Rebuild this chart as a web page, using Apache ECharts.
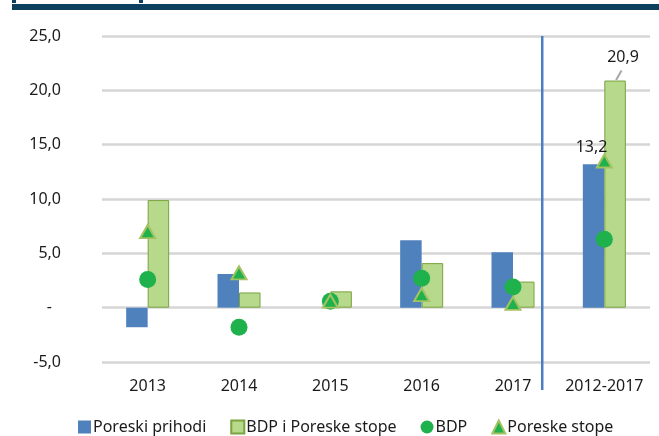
<!DOCTYPE html>
<html>
<head>
<meta charset="utf-8">
<script src="https://cdn.jsdelivr.net/npm/echarts@6/dist/echarts.min.js"></script>
<style>
  html, body { margin: 0; padding: 0; background: #ffffff; }
  #chart { width: 659px; height: 436px; }
</style>
</head>
<body>
<div id="chart"></div>
<script>
// Categories and series values
const categories = ['2013', '2014', '2015', '2016', '2017', '2012-2017'];
const poreskiPrihodi = [-1.8, 3.1, 0.0, 6.2, 5.1, 13.2];
const bdpIPoreskeStope = [9.9, 1.4, 1.5, 4.1, 2.4, 20.9];
const bdp = [2.6, -1.8, 0.6, 2.7, 1.9, 6.3];
const poreskeStope = [7.0, 3.2, 0.6, 1.2, 0.4, 13.5];
const yTicks = [-5, 0, 5, 10, 15, 20, 25];

const FONT = 'Noto Sans';
const FS = 16;
const TEXT = '#1a1a1a';
const BLUE = '#4f81bd';
const LIGHT_GREEN = '#b7d98b';
const GREEN_EDGE = '#7aa23f';
const DOT_GREEN = '#1fb14b';
const TRI_EDGE = '#a3c262';
const BAR_W = 21.5;

function fmt(v) {
  return v.toFixed(1).replace('.', ',');
}

// Only the last period carries value labels
const lastIdx = categories.length - 1;
const prihodiData = poreskiPrihodi.map((v, i) => i === lastIdx ? {
  value: v,
  label: { show: true, position: 'top', distance: 9, offset: [-2, 0],
    formatter: p => fmt(p.value), color: TEXT, fontFamily: FONT, fontSize: FS }
} : v);
const stopeBarData = bdpIPoreskeStope.map((v, i) => i === lastIdx ? {
  value: v,
  label: { show: true, position: 'top', distance: 15, offset: [8, 0],
    formatter: p => fmt(p.value), color: TEXT, fontFamily: FONT, fontSize: FS }
} : v);

const chart = echarts.init(document.getElementById('chart'), null, { renderer: 'canvas' });

const option = {
  animation: false,
  backgroundColor: '#ffffff',
  grid: { left: 102, right: 9, top: 36, bottom: 74, containLabel: false },
  xAxis: {
    type: 'category',
    data: categories,
    axisLine: { show: false },
    axisTick: { show: false },
    axisLabel: { interval: 0, color: TEXT, fontFamily: FONT, fontSize: FS, margin: 16 }
  },
  yAxis: {
    type: 'value',
    min: yTicks[0],
    max: yTicks[yTicks.length - 1],
    interval: 5,
    axisLine: { show: false },
    axisTick: { show: false },
    splitLine: { lineStyle: { color: '#d6d6d6', width: 2.5 } },
    axisLabel: {
      color: TEXT, fontFamily: FONT, fontSize: FS, margin: 41,
      formatter: v => v === 0 ? '{z|-}' : fmt(v),
      rich: { z: { fontFamily: FONT, fontSize: FS, color: TEXT, padding: [0, 9, 0, 0] } }
    }
  },
  legend: {
    bottom: 1,
    left: 73,
    padding: [0, 5],
    itemGap: 24,
    itemWidth: 13,
    itemHeight: 13,
    textStyle: { color: TEXT, fontFamily: FONT, fontSize: FS, padding: [0, 0, 0, -3] },
    data: [
      { name: 'Poreski prihodi', icon: 'rect' },
      { name: 'BDP i Poreske stope', icon: 'rect' },
      { name: 'BDP', icon: 'circle' },
      { name: 'Poreske stope', icon: 'triangle' }
    ]
  },
  series: [
    {
      name: 'Poreski prihodi',
      type: 'bar',
      data: prihodiData,
      barWidth: BAR_W,
      barGap: '0%',
      itemStyle: { color: BLUE }
    },
    {
      name: 'BDP i Poreske stope',
      type: 'bar',
      data: stopeBarData,
      barWidth: BAR_W,
      barGap: '0%',
      itemStyle: { color: LIGHT_GREEN, borderColor: GREEN_EDGE, borderWidth: 1 }
    },
    {
      name: 'BDP',
      type: 'scatter',
      data: bdp,
      symbol: 'circle',
      symbolSize: 17,
      itemStyle: { color: DOT_GREEN, opacity: 1 },
      z: 3
    },
    {
      name: 'Poreske stope',
      type: 'scatter',
      data: poreskeStope,
      symbol: 'triangle',
      symbolSize: [15, 13],
      itemStyle: { color: DOT_GREEN, borderColor: TRI_EDGE, borderWidth: 2, opacity: 1 },
      z: 4
    }
  ]
};

chart.setOption(option);

// Header band, the separator between yearly values and the whole period,
// and the leader from the 20,9 label to its bar
function drawDecor() {
  const x17 = chart.convertToPixel({ xAxisIndex: 0 }, categories[4]);
  const xAll = chart.convertToPixel({ xAxisIndex: 0 }, categories[lastIdx]);
  const sepX = x17 + (xAll - x17) * 0.32;
  const yTop = chart.convertToPixel({ yAxisIndex: 0 }, yTicks[yTicks.length - 1]);
  const barTopY = chart.convertToPixel({ yAxisIndex: 0 }, bdpIPoreskeStope[lastIdx]);
  const barCx = xAll + BAR_W / 2;
  chart.setOption({
    graphic: [
      { type: 'rect', shape: { x: 12, y: 4, width: 647, height: 6 },
        style: { fill: '#0d3f5f' }, silent: true },
      { type: 'rect', shape: { x: 12, y: 0, width: 4, height: 3 },
        style: { fill: '#0d3f5f' }, silent: true },
      { type: 'rect', shape: { x: 139, y: 0, width: 4, height: 3 },
        style: { fill: '#0d3f5f' }, silent: true },
      { type: 'line', shape: { x1: sepX, y1: yTop, x2: sepX, y2: 390 },
        style: { stroke: '#4a7ebf', lineWidth: 2.5 }, silent: true, z: 10 },
      { type: 'line', shape: { x1: barCx + 1, y1: barTopY - 0.5, x2: barCx + 6.5, y2: barTopY - 10 },
        style: { stroke: '#a6a6a6', lineWidth: 2 }, silent: true, z: 10 }
    ]
  });
}
drawDecor();
</script>
</body>
</html>
